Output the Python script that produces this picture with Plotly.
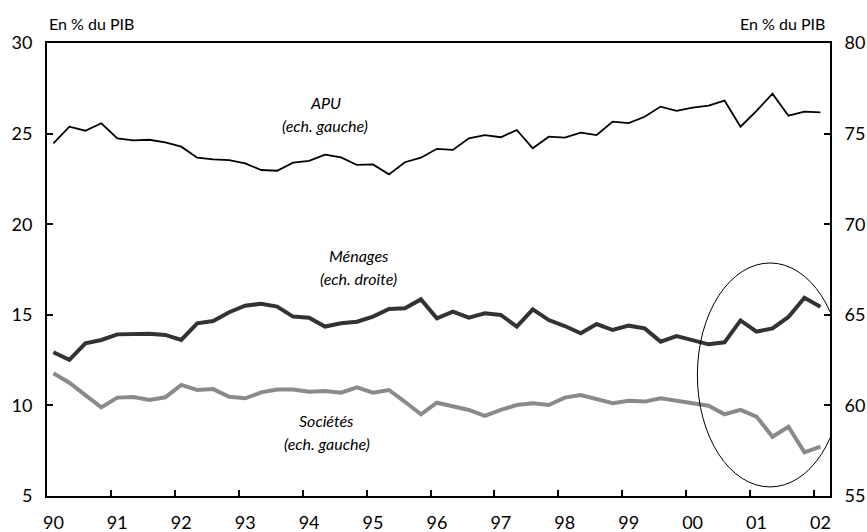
import plotly.graph_objs as go

# quarterly, 1990Q1 .. 2002Q1
quarters = list(range(49))
year_labels = ["90", "91", "92", "93", "94", "95", "96", "97", "98", "99", "00", "01", "02"]

apu = [24.46, 25.38, 25.16, 25.57, 24.74, 24.63, 24.66, 24.52, 24.28, 23.67,
       23.58, 23.54, 23.36, 22.99, 22.95, 23.40, 23.49, 23.84, 23.69, 23.27,
       23.30, 22.75, 23.42, 23.67, 24.16, 24.10, 24.74, 24.92, 24.80, 25.20,
       24.19, 24.83, 24.78, 25.05, 24.92, 25.66, 25.58, 25.93, 26.49, 26.26,
       26.43, 26.54, 26.82, 25.38, 26.25, 27.20, 25.99, 26.21, 26.17]

menages = [62.93, 62.51, 63.43, 63.61, 63.92, 63.92, 63.96, 63.89, 63.61, 64.53,
           64.66, 65.14, 65.50, 65.61, 65.45, 64.90, 64.84, 64.35, 64.53, 64.62,
           64.90, 65.32, 65.36, 65.85, 64.81, 65.17, 64.84, 65.08, 64.99, 64.35,
           65.30, 64.71, 64.38, 63.98, 64.49, 64.16, 64.40, 64.25, 63.52, 63.83,
           63.61, 63.37, 63.48, 64.69, 64.07, 64.25, 64.88, 65.94, 65.45]

societes = [11.77, 11.25, 10.57, 9.89, 10.43, 10.46, 10.30, 10.45, 11.13, 10.85,
            10.90, 10.48, 10.39, 10.72, 10.88, 10.88, 10.76, 10.79, 10.70, 11.00,
            10.70, 10.85, 10.20, 9.51, 10.15, 9.93, 9.75, 9.42, 9.75, 10.02,
            10.12, 10.02, 10.43, 10.57, 10.35, 10.12, 10.26, 10.21, 10.39, 10.26,
            10.15, 9.98, 9.51, 9.75, 9.38, 8.27, 8.82, 7.41, 7.72]

left_ticks = [5, 10, 15, 20, 25, 30]
right_ticks = [55, 60, 65, 70, 75, 80]

FONT = "Lato, 'DejaVu Sans', sans-serif"
xr = [-0.4, 48.6]

fig = go.Figure()
fig.add_trace(go.Scatter(x=quarters, y=societes, mode="lines",
                         line={"color": "#8a8a8a", "width": 4}, yaxis="y"))
fig.add_trace(go.Scatter(x=quarters, y=menages, mode="lines",
                         line={"color": "#333333", "width": 4}, yaxis="y2"))
fig.add_trace(go.Scatter(x=quarters, y=apu, mode="lines",
                         line={"color": "black", "width": 1.8}, yaxis="y"))
# invisible trace carrying the tick-mark axis
fig.add_trace(go.Scatter(x=[quarters[0]], y=[apu[0]], xaxis="x2", yaxis="y",
                         mode="markers", marker={"opacity": 0}, hoverinfo="skip"))

fig.update_layout(
    width=867, height=532,
    margin={"l": 47, "r": 37, "t": 43, "b": 36},
    paper_bgcolor="white", plot_bgcolor="white",
    showlegend=False,
    font={"family": FONT, "color": "black"},
    # year labels at Q1 of each year
    xaxis={"range": xr, "showgrid": False, "zeroline": False, "automargin": False,
           "showline": True, "linecolor": "black", "linewidth": 2, "mirror": True,
           "tickvals": [4 * k for k in range(13)], "ticktext": year_labels,
           "ticks": "", "tickfont": {"size": 18}, "ticklabelstandoff": 9},
    # year separators
    xaxis2={"range": xr, "overlaying": "x", "side": "bottom", "anchor": "y",
            "showgrid": False, "zeroline": False, "showline": False, "automargin": False,
            "tickvals": [-0.4 + 4 * k for k in range(1, 13)], "showticklabels": False,
            "ticks": "inside", "ticklen": 6, "tickwidth": 2, "tickcolor": "black"},
    yaxis={"range": [5, 30], "tickvals": left_ticks, "showgrid": False, "zeroline": False,
           "showline": True, "linecolor": "black", "linewidth": 2, "automargin": False,
           "ticks": "inside", "ticklen": 6, "tickwidth": 2, "tickcolor": "black",
           "tickfont": {"size": 18}, "ticklabelstandoff": 9},
    yaxis2={"range": [55, 80], "tickvals": right_ticks, "overlaying": "y", "side": "right",
            "anchor": "x", "showgrid": False, "zeroline": False, "automargin": False,
            "showline": True, "linecolor": "black", "linewidth": 2,
            "ticks": "inside", "ticklen": 6, "tickwidth": 2, "tickcolor": "black",
            "tickfont": {"size": 18}, "ticklabelstandoff": 9},
)

# axis units
fig.add_annotation(text="En % du PIB", xref="paper", yref="paper", x=0, y=1,
                   xanchor="left", yanchor="bottom", yshift=8, showarrow=False,
                   font={"size": 16})
fig.add_annotation(text="En % du PIB", xref="paper", yref="paper", x=1, y=1,
                   xanchor="right", yanchor="bottom", yshift=8, xshift=-3, showarrow=False,
                   font={"size": 16})

# series labels
labels = [("APU", 17, 26.74), ("(ech. gauche)", 17, 25.47),
          ("Ménages", 19.1, 18.3), ("(ech. droite)", 19.1, 17.03),
          ("Sociétés", 17.1, 9.19), ("(ech. gauche)", 17.1, 7.92)]
for txt, lx, ly in labels:
    fig.add_annotation(text="<i>" + txt + "</i>", x=lx, y=ly, xref="x", yref="y",
                       showarrow=False, font={"size": 16})

# ellipse around recent quarters
fig.add_shape(type="circle", xref="x", yref="y", x0=40.3, x1=49.4, y0=5.5, y1=17.86,
              line={"color": "black", "width": 1})

# drop the default page margin so the figure fills the window exactly
fig.write_html("out.html", config={"displayModeBar": False},
               post_script="document.body.style.margin='0';document.body.style.overflow='hidden';")
